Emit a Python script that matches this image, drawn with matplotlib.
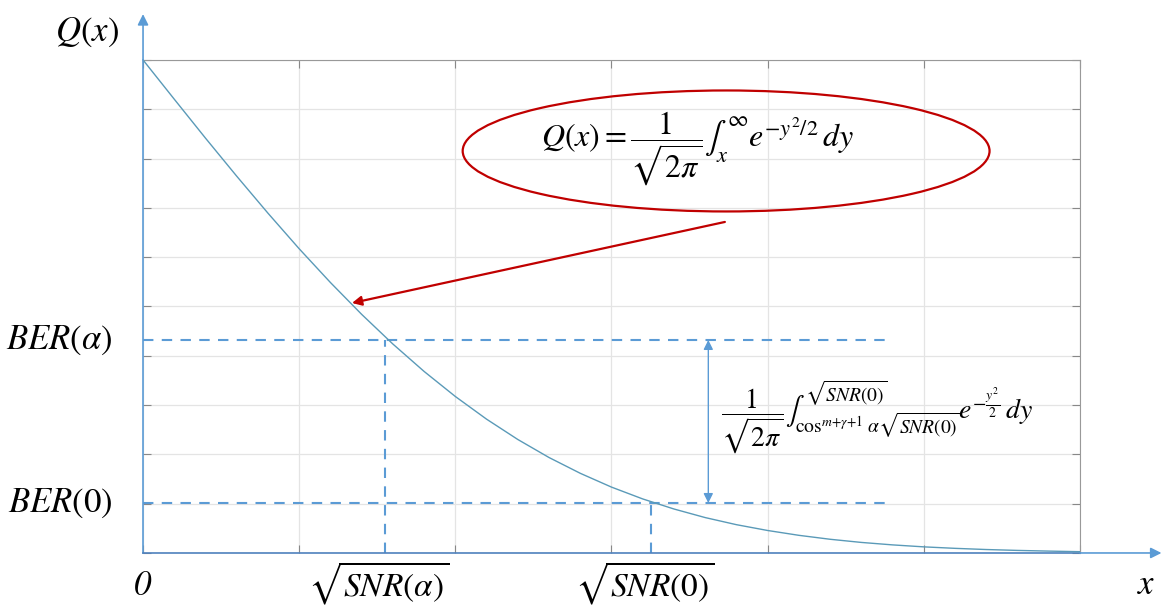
import matplotlib.pyplot as plt
from matplotlib.patches import Ellipse

plt.rcParams['mathtext.fontset'] = 'stix'
plt.rcParams['font.family'] = 'STIXGeneral'

# values
x_vals = [0.0, 0.1, 0.2, 0.3, 0.4, 0.5, 0.6, 0.7, 0.8, 0.9, 1.0,
          1.1, 1.2, 1.3, 1.4, 1.5, 1.6, 1.7, 1.8, 1.9, 2.0,
          2.1, 2.2, 2.3, 2.4, 2.5, 2.6, 2.7, 2.8, 2.9, 3.0]
q_vals = [0.5, 0.4602, 0.4207, 0.3821, 0.3446, 0.3085, 0.2743, 0.2420, 0.2119, 0.1841, 0.1587,
          0.1357, 0.1151, 0.0968, 0.0808, 0.0668, 0.0548, 0.0446, 0.0359, 0.0287, 0.0228,
          0.0179, 0.0139, 0.0107, 0.0082, 0.0062, 0.0047, 0.0035, 0.0026, 0.0019, 0.0013]

snr_alpha = 0.775
snr_zero = 1.626
ber_alpha = 0.216
ber_zero = 0.0507
dash_end = 2.39
span_x = 1.81

x_ticklabels = [r'$\sqrt{SNR(\alpha)}$', r'$\sqrt{SNR(0)}$']
y_ticklabels = [r'$BER(0)$', r'$BER(\alpha)$']

blue = '#5b9bd5'
red = '#c00000'

fig = plt.figure(figsize=(11.61, 6.08), dpi=100)
ax = fig.add_axes([0.1232, 0.0905, 0.807, 0.8109])

ax.plot(x_vals, q_vals, color='#5a9ab8', lw=1.0, zorder=3)
ax.set_xlim(0, 3)
ax.set_ylim(0, 0.5)

# grid
ax.set_xticks([0.5 * i for i in range(7)])
ax.set_yticks([0.05 * i for i in range(11)])
ax.set_xticklabels([])
ax.set_yticklabels([])
ax.grid(True, color='#e4e4e4', lw=0.9)
ax.tick_params(direction='in', length=6, color='#888888', top=True, right=True)
for s in ['top', 'right']:
    ax.spines[s].set_color('#999999')
ax.spines['left'].set_color(blue)
ax.spines['bottom'].set_color('#4f81bd')
ax.spines['left'].set_linewidth(1.2)
ax.spines['bottom'].set_linewidth(1.2)

# dashed guide lines
ax.plot([0, dash_end], [ber_alpha, ber_alpha], '--', color=blue, lw=1.5, dashes=(5, 4))
ax.plot([0, dash_end], [ber_zero, ber_zero], '--', color=blue, lw=1.5, dashes=(5, 4))
ax.plot([snr_alpha, snr_alpha], [0, ber_alpha], '--', color=blue, lw=1.5, dashes=(5, 4))
ax.plot([snr_zero, snr_zero], [0, ber_zero], '--', color=blue, lw=1.5, dashes=(5, 4))

# span arrow
ax.annotate('', xy=(span_x, ber_zero), xytext=(span_x, ber_alpha),
            arrowprops=dict(arrowstyle='<|-|>', color=blue, lw=1.0,
                            mutation_scale=14, shrinkA=0, shrinkB=0))

# axis arrows
ax.annotate('', xy=(0, 1.093), xytext=(0, 1.0), xycoords='axes fraction',
            arrowprops=dict(arrowstyle='-|>', color=blue, lw=1.2,
                            mutation_scale=16, shrinkA=0, shrinkB=0),
            annotation_clip=False)
ax.annotate('', xy=(1.087, 0), xytext=(1.0, 0), xycoords='axes fraction',
            arrowprops=dict(arrowstyle='-|>', color=blue, lw=1.2,
                            mutation_scale=16, shrinkA=0, shrinkB=0),
            annotation_clip=False)

# labels
fs = 25
ax.text(-0.06, 1.055, r'$Q(x)$', transform=ax.transAxes, fontsize=fs,
        ha='center', va='center')
ax.text(1.0705, -0.066, r'$x$', transform=ax.transAxes, fontsize=fs,
        ha='center', va='center')
for y, lab in zip([ber_zero, ber_alpha], y_ticklabels):
    ax.text(-0.032, y, lab, transform=ax.get_yaxis_transform(), fontsize=fs,
            ha='right', va='center')
ax.text(0, -0.066, '0', transform=ax.get_xaxis_transform(), fontsize=fs,
        style='italic', ha='center', va='center')
for x, lab in zip([snr_alpha, snr_zero], x_ticklabels):
    ax.text(x - 0.02, -0.062, lab, transform=ax.get_xaxis_transform(), fontsize=24,
            ha='center', va='center')

# formula in ellipse
ax.add_patch(Ellipse((1.867, 0.4077), 1.687, 0.1227, fill=False,
                     edgecolor=red, lw=1.6, zorder=4))
ax.text(1.775, 0.41, r'$Q(x) = \dfrac{1}{\sqrt{2\pi}}\int_x^{\infty} e^{-y^2/2}\,dy$',
        fontsize=23, ha='center', va='center', zorder=5)
ax.annotate('', xy=(0.669, 0.2535), xytext=(1.863, 0.3357),
            arrowprops=dict(arrowstyle='-|>', color=red, lw=1.6,
                            mutation_scale=14, shrinkA=0, shrinkB=0))

ax.text(1.85, 0.138,
        r'$\dfrac{1}{\sqrt{2\pi}}\int_{\cos^{m+\gamma+1}\,\alpha\sqrt{SNR(0)}}^{\sqrt{SNR(0)}} e^{-\frac{y^2}{2}}\,dy$',
        fontsize=20, ha='left', va='center')

fig.savefig('out.png', dpi=100)
